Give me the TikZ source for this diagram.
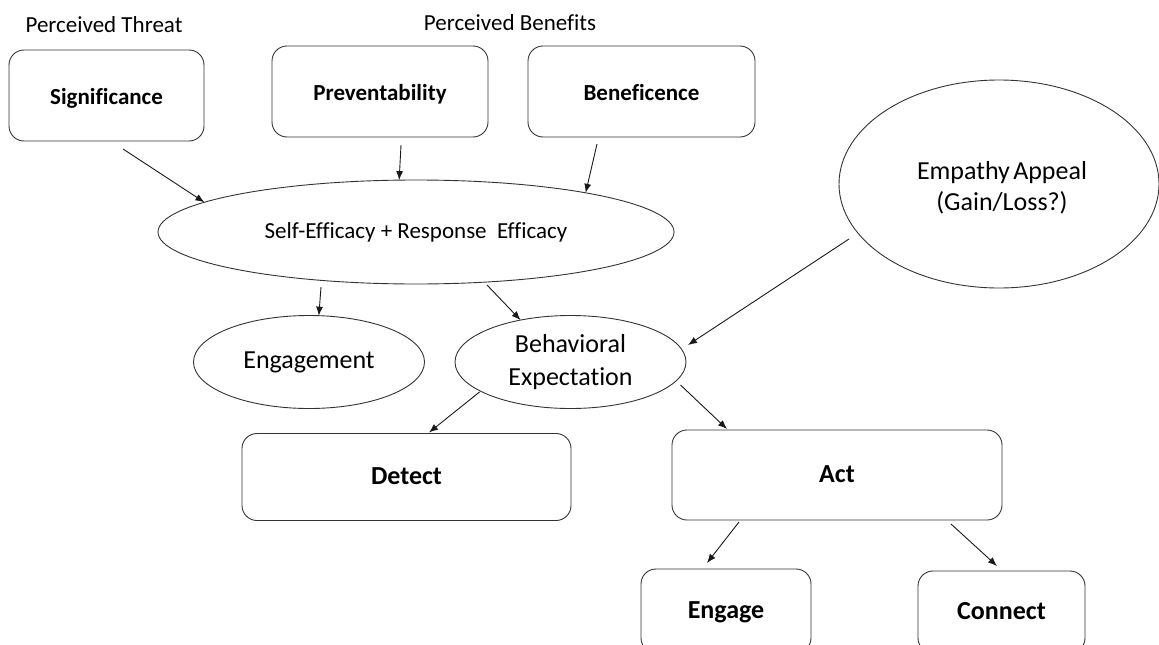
\documentclass[tikz,border=0pt]{standalone}
\usepackage{fontspec}
\setmainfont{Carlito}[Ligatures=CommonOff]
\usetikzlibrary{shapes.geometric,arrows.meta,calc}
\begin{document}
\begin{tikzpicture}[x=1pt,y=-1pt,
  box/.style={draw=black!80, line width=0.9pt, rounded corners=15pt,
    inner sep=0pt, outer sep=0pt, align=center},
  topbox/.style={box, font=\fontsize{23}{27}\selectfont\bfseries,
    minimum height=91pt, text height=22pt, text depth=4pt},
  lowbox/.style={box, font=\fontsize{26}{30}\selectfont\bfseries,
    text height=20pt, text depth=5pt},
  oval/.style={draw=black!80, line width=0.9pt, ellipse, inner sep=0pt,
    outer sep=0pt, align=center},
  heading/.style={font=\fontsize{23}{27}\selectfont, inner sep=0pt},
  link/.style={draw=black!90, line width=0.9pt, -{Latex[length=9pt,width=7pt]}}]

% page frame
\path[use as bounding box] (0,0) rectangle (1159,645);
\clip (0,0) rectangle (1159,645);

% group headings
\node[heading] (threat) at (104,25) {Perceived Threat};
\node[heading] (benefit) at (510,23) {Perceived Benefits};

% top row of constructs
\node[topbox, minimum width=195pt] (sig)  at (106.5,95.5) {Significance};
\node[topbox, minimum width=216pt] (prev) at (380,91.5)   {Preventability};
\node[topbox, minimum width=227pt] (ben)  at (641.5,91.5) {Beneficence};

% efficacy ellipse
\node[oval, minimum width=516pt, minimum height=104pt,
      font=\fontsize{23}{27}\selectfont] (se) at (416,232)
      {Self-Efficacy + Response\ \ Efficacy};

% empathy appeal
\node[oval, minimum width=320pt, minimum height=208pt] (emp) at (999,184) {};
\node[font=\fontsize{26}{31}\selectfont, align=center, inner sep=0pt]
      (emptext) at ($(emp.center)+(3,4)$)
      {Empathy\hspace{-0.1em} Appeal\\(Gain/Loss?)};

% middle ellipses
\node[oval, minimum width=231pt, minimum height=93pt,
      font=\fontsize{26}{30}\selectfont] (eng) at (309,362) {Engagement};
\node[oval, minimum width=231pt, minimum height=93pt,
      font=\fontsize{26}{33}\selectfont] (beh) at (570.5,362)
      {Behavioral\\Expectation};

% outcome boxes
\node[lowbox, minimum width=329pt, minimum height=87pt] (det) at (406.5,477) {Detect};
\node[lowbox, minimum width=330pt, minimum height=90pt] (act) at (837,475) {Act};
\node[lowbox, minimum width=170pt, minimum height=84pt] (engage) at (726,611) {Engage};
\node[lowbox, minimum width=167pt, minimum height=82pt] (connect) at (1001.5,612) {Connect};

% connectors
\draw[link] ($(sig.south)+(16.5,8)$) -- (se.172.3);
\draw[link] ($(prev.south)+(21,8)$) -- (se.108.1);
\draw[link] ($(ben.south)+(-44.5,7)$) -- (se.13.2);
\draw[link] ($(se.south)+(-95,3)$) -- (eng.78);
\draw[link] ($(se.south)+(71,1)$) -- (beh.140);
\draw[link] ($(emp.center)+(-150,55)$) -- ($(beh.east)+(2,-17)$);
\draw[link] ($(beh.center)+(-91,30)$) -- ($(det.north)+(22.5,-1)$);
\draw[link] ($(beh.center)+(110,23)$) -- ($(act.north)+(-110,-1)$);
\draw[link] ($(act.south)+(-98,2)$) -- ($(engage.north)+(-19,-6)$);
\draw[link] ($(act.south)+(114,4)$) -- ($(connect.north)+(-4.5,-5)$);
\end{tikzpicture}
\end{document}
